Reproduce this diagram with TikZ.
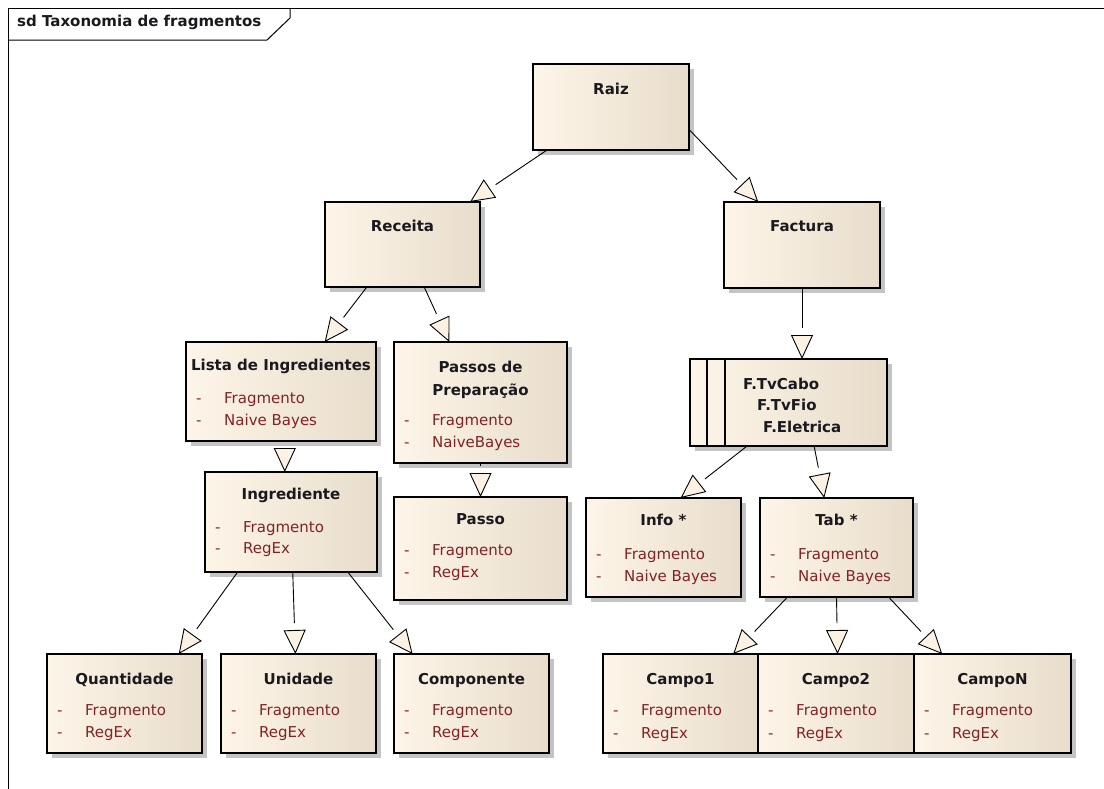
\documentclass[tikz,border=0pt]{standalone}
\usepackage{fontspec}
\setmainfont{DejaVu Sans}
\usepackage{tikz}
\usetikzlibrary{arrows.meta, positioning, calc, decorations.markings}
\definecolor{inkdark}{RGB}{25,25,30}
\definecolor{attrred}{RGB}{130,34,38}
\definecolor{boxlight}{RGB}{253,245,232}
\definecolor{boxdark}{RGB}{232,221,203}
\definecolor{boxshadow}{RGB}{196,196,196}
\definecolor{tipcream}{RGB}{251,242,228}
\tikzset{
  fragcls/.style={rectangle, draw=black, line width=1.3pt, left color=boxlight,
    right color=boxdark, inner sep=0pt, outer sep=0pt},
  ttl/.style={font=\fontsize{15}{18}\selectfont\bfseries, text=inkdark, inner sep=0pt},
  attrtxt/.style={font=\fontsize{15}{18}\selectfont, text=attrred, inner sep=0pt},
  gen/.style={line width=0.9pt, shorten >=31pt, postaction={decorate},
    decoration={markings, mark=at position 1 with
      {\arrow{Triangle[fill=tipcream, length=24pt, width=22pt, line width=0.9pt]}}}}
}
% box with drop shadow: name, left, top, right, bottom
\newcommand{\fragbox}[5]{%
  \fill[boxshadow] (#2+5,#3+5) rectangle (#4+5,#5+5);
  \node[fragcls, anchor=north west, minimum width={#4-#2}, minimum height={#5-#3}] (#1) at (#2,#3) {};
}
% attribute row: box, index, y, text
\newcommand{\fragattr}[4]{%
  \node[attrtxt, anchor=mid west] (#1-d#2) at ($(#1.west |- 0,#3)+(10,0)$) {-};
  \node[attrtxt, anchor=mid west] (#1-a#2) at ($(#1.west |- 0,#3)+(38,0)$) {#4};
}
\begin{document}
\begin{tikzpicture}[x=1pt, y=-1pt]
    \useasboundingbox (0,0) rectangle (1104,788);
    \clip (0,0) rectangle (1104,788);

    % Frame
    \draw[line width=1pt] (8,8) rectangle (1120,800);
    \draw[line width=1pt] (8,40) -- (267,40) -- (290,18) -- (290,8);
    \node[ttl, anchor=mid west] (frame-t) at (17,24) {sd Taxonomia de fragmentos};

    % Raiz
    \fragbox{raiz}{533}{64}{689}{150}
    \node[ttl, anchor=mid] (raiz-t) at (raiz.north |- 0,92) {Raiz};

    % Receita / Factura
    \fragbox{rec}{325}{202}{480}{287}
    \node[ttl, anchor=mid] (rec-t) at (rec.north |- 0,229) {Receita};
    \fragbox{fact}{724}{202}{880}{288}
    \node[ttl, anchor=mid] (fact-t) at (fact.north |- 0,229) {Factura};

    % Lista de Ingredientes
    \fragbox{lista}{186}{342}{376}{441}
    \node[ttl, anchor=mid] (lista-t) at (lista.north |- 0,368) {Lista de Ingredientes};
    \fragattr{lista}{1}{401}{Fragmento}
    \fragattr{lista}{2}{423}{Naive Bayes}

    % Passos de Preparacao
    \fragbox{passos}{394}{342}{567}{463}
    \node[ttl, align=center, font=\fontsize{15}{23}\selectfont\bfseries] (passos-t)
      at (passos.north |- 0,380) {Passos de\\Preparação};
    \fragattr{passos}{1}{423}{Fragmento}
    \fragattr{passos}{2}{445}{NaiveBayes}

    % Facturas (multi)
    \fragbox{fbox}{690}{359}{887}{446}
    \draw[line width=1.3pt] ($(fbox.north west)+(17,0)$) -- ($(fbox.south west)+(17,0)$);
    \draw[line width=1.3pt] ($(fbox.north west)+(35,0)$) -- ($(fbox.south west)+(35,0)$);
    \node[ttl, anchor=mid west] (fbox-t1) at (743,387) {F.TvCabo};
    \node[ttl, anchor=mid west] (fbox-t2) at (757,408) {F.TvFio};
    \node[ttl, anchor=mid west] (fbox-t3) at (763,430) {F.Eletrica};

    % Ingrediente / Passo
    \fragbox{ingr}{205}{472}{377}{572}
    \node[ttl, anchor=mid] (ingr-t) at (ingr.north |- 0,497) {Ingrediente};
    \fragattr{ingr}{1}{530}{Fragmento}
    \fragattr{ingr}{2}{551}{RegEx}
    \fragbox{passo}{394}{497}{567}{600}
    \node[ttl, anchor=mid] (passo-t) at (passo.north |- 0,522) {Passo};
    \fragattr{passo}{1}{553}{Fragmento}
    \fragattr{passo}{2}{575}{RegEx}

    % Info / Tab
    \fragbox{info}{586}{498}{741}{597}
    \node[ttl, anchor=mid] (info-t) at (info.north |- 0,523) {Info *};
    \fragattr{info}{1}{557}{Fragmento}
    \fragattr{info}{2}{579}{Naive Bayes}
    \fragbox{tab}{760}{498}{913}{597}
    \node[ttl, anchor=mid] (tab-t) at (tab.north |- 0,523) {Tab *};
    \fragattr{tab}{1}{557}{Fragmento}
    \fragattr{tab}{2}{579}{Naive Bayes}

    % Quantidade / Unidade / Componente
    \fragbox{quant}{47}{654}{202}{753}
    \node[ttl, anchor=mid] (quant-t) at (quant.north |- 0,682) {Quantidade};
    \fragattr{quant}{1}{713}{Fragmento}
    \fragattr{quant}{2}{735}{RegEx}
    \fragbox{unid}{221}{654}{376}{753}
    \node[ttl, anchor=mid] (unid-t) at (unid.north |- 0,682) {Unidade};
    \fragattr{unid}{1}{713}{Fragmento}
    \fragattr{unid}{2}{735}{RegEx}
    \fragbox{comp}{394}{654}{549}{753}
    \node[ttl, anchor=mid] (comp-t) at (comp.north |- 0,682) {Componente};
    \fragattr{comp}{1}{713}{Fragmento}
    \fragattr{comp}{2}{735}{RegEx}

    % Campos
    \fragbox{campoa}{603}{654}{758}{753}
    \node[ttl, anchor=mid] (campoa-t) at (campoa.north |- 0,682) {Campo1};
    \fragattr{campoa}{1}{713}{Fragmento}
    \fragattr{campoa}{2}{736}{RegEx}
    \fragbox{campob}{758}{654}{914}{753}
    \node[ttl, anchor=mid] (campob-t) at (campob.north |- 0,682) {Campo2};
    \fragattr{campob}{1}{713}{Fragmento}
    \fragattr{campob}{2}{736}{RegEx}
    \fragbox{campon}{914}{654}{1071}{753}
    \node[ttl, anchor=mid] (campon-t) at (campon.north |- 0,682) {CampoN};
    \fragattr{campon}{1}{713}{Fragmento}
    \fragattr{campon}{2}{736}{RegEx}

    % Generalizations
    \draw[gen] ($(raiz.south west)!0.09!(raiz.south east)$) -- ($(rec.north west)!0.935!(rec.north east)$);
    \draw[gen] ($(raiz.north east)!0.76!(raiz.south east)$) -- ($(fact.north west)!0.22!(fact.north east)$);
    \draw[gen] ($(rec.south west)!0.27!(rec.south east)$) -- ($(lista.north west)!0.73!(lista.north east)$);
    \draw[gen] ($(rec.south west)!0.64!(rec.south east)$) -- ($(passos.north west)!0.32!(passos.north east)$);
    \draw[gen] (fact.south) -- (fact.south |- fbox.north);
    \draw[gen] ($(lista.south west)!0.52!(lista.south east)$) coordinate (lista-s) -- (lista-s |- ingr.north);
    \draw[gen] (passos.south) -- (passos.south |- passo.north);
    \draw[gen] ($(fbox.south west)!0.29!(fbox.south east)$) -- ($(info.north west)!0.61!(info.north east)$);
    \draw[gen] ($(fbox.south west)!0.63!(fbox.south east)$) -- ($(tab.north west)!0.42!(tab.north east)$);
    \draw[gen] ($(ingr.south west)!0.19!(ingr.south east)$) -- ($(quant.north west)!0.85!(quant.north east)$);
    \draw[gen] ($(ingr.south west)!0.51!(ingr.south east)$) -- ($(unid.north west)!0.48!(unid.north east)$);
    \draw[gen] ($(ingr.south west)!0.83!(ingr.south east)$) -- ($(comp.north west)!0.12!(comp.north east)$);
    \draw[gen] ($(tab.south west)!0.18!(tab.south east)$) -- ($(campoa.north west)!0.84!(campoa.north east)$);
    \draw[gen] ($(tab.south west)!0.5!(tab.south east)$) -- ($(campob.north west)!0.51!(campob.north east)$);
    \draw[gen] ($(tab.south west)!0.84!(tab.south east)$) -- ($(campon.north west)!0.18!(campon.north east)$);
\end{tikzpicture}
\end{document}
